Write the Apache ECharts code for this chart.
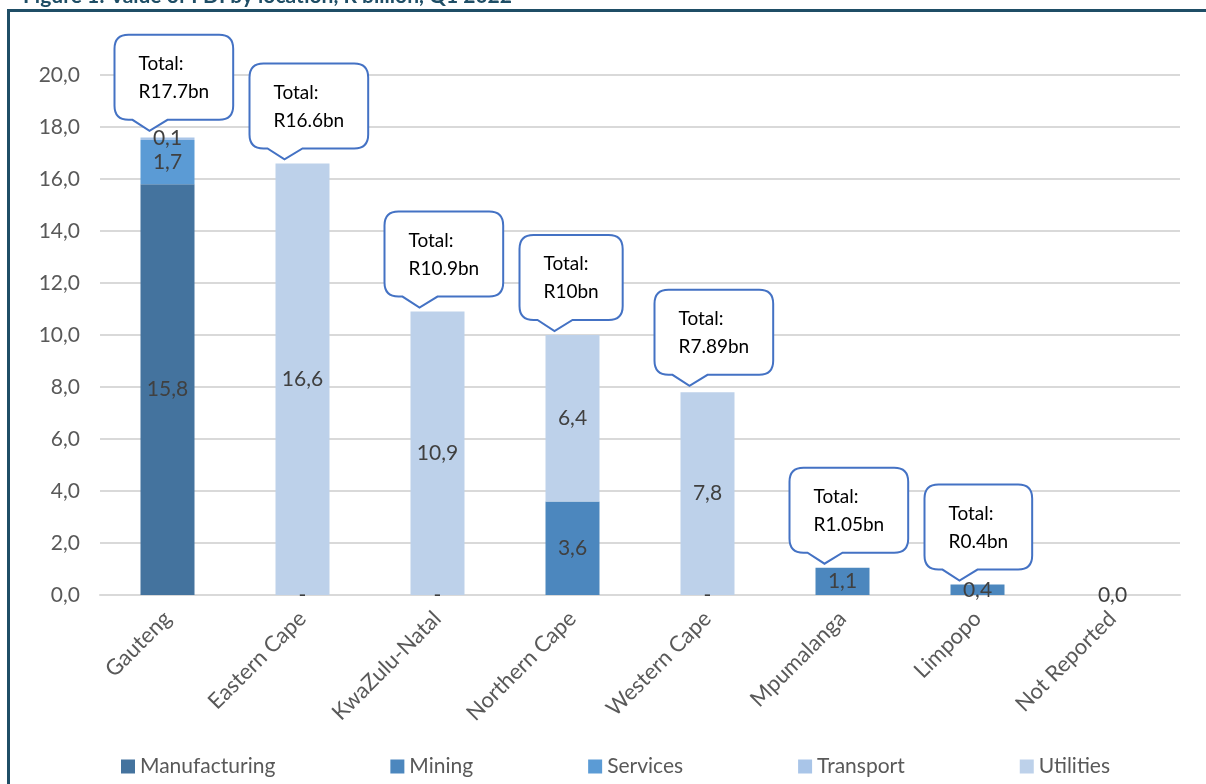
<!DOCTYPE html>
<html><head><meta charset="utf-8">
<script src="https://cdn.jsdelivr.net/npm/echarts@6/dist/echarts.min.js"></script>
<style>html,body{margin:0;padding:0;background:#fff}#c{width:1206px;height:784px}</style>
</head><body><div id="c"></div>
<script>
const categories = ['Gauteng','Eastern Cape','KwaZulu-Natal','Northern Cape','Western Cape','Mpumalanga','Limpopo','Not Reported'];
const manufacturing = [15.8, 0, 0, null, 0, null, null, null];
const mining = [null, null, null, 3.6, null, 1.05, 0.4, 0];
const services = [1.7, null, null, null, null, null, null, null];
const transport = [0.1, null, null, null, null, null, null, null];
const utilities = [null, 16.6, 10.9, 6.4, 7.8, null, null, null];
const totals = [17.7, 16.6, 10.9, 10.0, 7.89, 1.05, 0.4, null];
const totalLabels = ['R17.7bn','R16.6bn','R10.9bn','R10bn','R7.89bn','R1.05bn','R0.4bn', null];
const yTicks = {min: 0, max: 20, interval: 2};

const FONT = 'Lato, "Open Sans", sans-serif';
const fmt = v => v.toFixed(1).replace('.', ',');
const chart = echarts.init(document.getElementById('c'), null, {renderer: 'canvas'});

const ctx = document.createElement('canvas').getContext('2d');
ctx.font = '19px ' + FONT;
const tw = s => ctx.measureText(s).width;

function mkLabel(zeroText) {
  return {
    show: true, position: 'inside', color: '#404040', fontSize: 21, fontFamily: FONT,
    formatter: p => (p.value === 0 ? zeroText : fmt(p.value))
  };
}
function bar(name, data, color, zeroText) {
  return {name, type: 'bar', stack: 'a', data, barWidth: 54,
    itemStyle: {color}, label: mkLabel(zeroText), emphasis: {disabled: true}};
}

const calloutData = totals.map((t, i) => t == null ? null : [i, t, totalLabels[i]]).filter(Boolean);

const series = [
  bar('Manufacturing', manufacturing, '#44739E', '-'),
  bar('Mining', mining, '#4C87BE', '0,0'),
  bar('Services', services, '#5B9BD5', ''),
  bar('Transport', transport, '#A9C5E8', ''),
  bar('Utilities', utilities, '#BDD1EA', ''),
  {
    type: 'custom', name: 'callouts', data: calloutData, z: 10, silent: true,
    renderItem: (params, api) => {
      const p = api.coord([api.value(0), api.value(1)]);
      const lbl = calloutData[params.dataIndex][2];
      const tx = p[0] - 18, ty = p[1] - 4;
      const w = Math.max(tw('Total:'), tw(lbl)) + 48;
      const h = 85, r = 14;
      const L = tx - 35, B = ty - 11, T = B - h, R = L + w;
      const d = `M${L + r},${T} L${R - r},${T} Q${R},${T} ${R},${T + r} L${R},${B - r} Q${R},${B} ${R - r},${B} ` +
        `L${tx + 18},${B} L${tx},${ty} L${tx - 17},${B} L${L + r},${B} Q${L},${B} ${L},${B - r} L${L},${T + r} Q${L},${T} ${L + r},${T} Z`;
      return {type: 'group', children: [
        {type: 'path', shape: {pathData: d}, style: {fill: '#fff', stroke: '#4472C4', lineWidth: 2}},
        {type: 'text', style: {text: 'Total:', x: L + 24, y: T + 29, fill: '#000', font: '19px ' + FONT, textVerticalAlign: 'middle'}},
        {type: 'text', style: {text: lbl, x: L + 24, y: T + 57, fill: '#000', font: '19px ' + FONT, textVerticalAlign: 'middle'}}
      ]};
    }
  }
];

chart.setOption({
  animation: false,
  title: {text: 'Figure 1: Value of FDI by location, R billion, Q1 2022', left: 18, top: -19,
    textStyle: {color: '#1F4E66', fontSize: 21, fontWeight: 'bold', fontFamily: FONT}},
  graphic: [
    {type: 'rect', shape: {x: 8.5, y: 10.5, width: 1300, height: 900}, style: {fill: 'none', stroke: '#1F4E66', lineWidth: 3}, z: 100}
  ],
  grid: {left: 100, right: 26, top: 75, bottom: 189, containLabel: false},
  legend: {
    data: ['Manufacturing','Mining','Services','Transport','Utilities'],
    left: 116, top: 751, itemWidth: 14, itemHeight: 14, itemGap: 115, icon: 'rect',
    textStyle: {fontSize: 21, color: '#595959', fontFamily: FONT}
  },
  xAxis: {
    type: 'category', data: categories,
    axisLine: {lineStyle: {color: '#D9D9D9', width: 2}}, axisTick: {show: false},
    axisLabel: {rotate: 45, fontSize: 22, color: '#595959', fontFamily: FONT, margin: 20, interval: 0}
  },
  yAxis: {
    type: 'value', min: yTicks.min, max: yTicks.max, interval: yTicks.interval,
    axisLine: {show: false}, axisTick: {show: false},
    splitLine: {lineStyle: {color: '#D9D9D9', width: 2}},
    axisLabel: {formatter: v => fmt(v), fontSize: 21, color: '#595959', fontFamily: FONT, margin: 20}
  },
  series
});
</script></body></html>
